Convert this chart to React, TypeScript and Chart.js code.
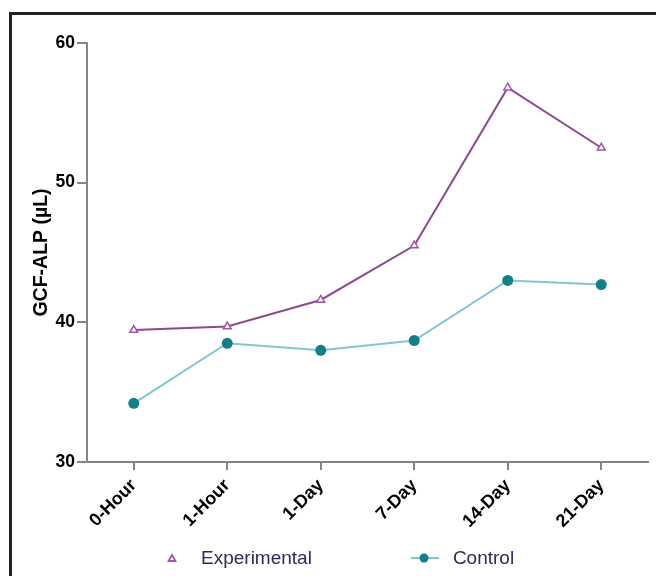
import { useRef, useEffect } from "react";
import { Chart, registerables } from "chart.js";

Chart.register(...registerables);

const timepoints = ["0-Hour", "1-Hour", "1-Day", "7-Day", "14-Day", "21-Day"];
const experimental = [39.45, 39.7, 41.6, 45.5, 56.8, 52.5];
const control = [34.2, 38.5, 38.0, 38.7, 43.0, 42.7];
const yTicks = [30, 40, 50, 60];

const colors = {
  expLine: "#8b4b8e",
  expPoint: "#a057a5",
  ctlLine: "#80c8d0",
  ctlPoint: "#137f89",
  axis: "#858585",
  legendText: "#2e2b5c",
};

const GcfChart = () => {
  const canvasRef = useRef<HTMLCanvasElement | null>(null);
  const chartRef = useRef<any>(null);

  useEffect(() => {
    if (!canvasRef.current) return;
    if (chartRef.current) chartRef.current.destroy();

    const ctx = canvasRef.current.getContext("2d");
    if (!ctx) return;

    chartRef.current = new Chart(ctx, {
      type: "line",
      data: {
        labels: timepoints,
        datasets: [
          {
            label: "Experimental",
            data: experimental,
            borderColor: colors.expLine,
            borderWidth: 2,
            pointStyle: "triangle",
            pointRadius: 4.5,
            pointBorderWidth: 1.5,
            pointBorderColor: colors.expPoint,
            pointBackgroundColor: "#ffffff",
            tension: 0,
          },
          {
            label: "Control",
            data: control,
            borderColor: colors.ctlLine,
            borderWidth: 2,
            pointStyle: "circle",
            pointRadius: 5.5,
            pointBorderWidth: 0,
            pointBackgroundColor: colors.ctlPoint,
            tension: 0,
          },
        ],
      },
      options: {
        responsive: false,
        animation: false,
        layout: { padding: { top: 43, left: 30, right: 8, bottom: 40 } },
        plugins: {
          legend: { display: false },
          tooltip: { enabled: false },
        },
        scales: {
          x: {
            offset: true,
            afterFit: (scale: any) => {
              scale.height = 74;
            },
            ticks: {
              autoSkip: false,
              maxRotation: 45,
              minRotation: 45,
              padding: 5,
              color: "#000",
              font: { family: "Liberation Sans, Arial", size: 18, weight: "bold" },
            },
            grid: {
              drawOnChartArea: false,
              drawTicks: true,
              tickLength: 8,
              color: colors.axis,
              lineWidth: 2,
            },
            border: { display: true, color: colors.axis, width: 2 },
          },
          y: {
            min: 30,
            max: 60,
            afterFit: (scale: any) => {
              scale.width = 57;
            },
            afterBuildTicks: (scale: any) => {
              scale.ticks = yTicks.map((v) => ({ value: v }));
            },
            ticks: {
              padding: 2,
              color: "#000",
              font: { family: "Liberation Sans, Arial", size: 17.5, weight: "bold" },
            },
            grid: {
              drawOnChartArea: false,
              drawTicks: true,
              tickLength: 10,
              color: colors.axis,
              lineWidth: 2,
            },
            border: { display: true, color: colors.axis, width: 2 },
            title: {
              display: true,
              text: "GCF-ALP (µL)",
              color: "#000",
              padding: 0,
              font: { family: "Liberation Sans, Arial", size: 19.5, weight: "bold" },
            },
          },
        },
      },
    });

    return () => chartRef.current?.destroy();
  }, []);

  return (
    <div
      style={{
        position: "fixed",
        left: 0,
        top: 0,
        width: 656,
        height: 576,
        background: "#fff",
        overflow: "hidden",
        fontFamily: "Liberation Sans, Arial, sans-serif",
      }}
    >
      {/* Frame */}
      <div
        style={{
          position: "absolute",
          left: 9,
          top: 12,
          width: 700,
          height: 600,
          borderLeft: "3px solid #222",
          borderTop: "3px solid #222",
        }}
      />

      {/* Chart */}
      <canvas
        ref={canvasRef}
        width={656}
        height={576}
        style={{ position: "absolute", left: 0, top: 0, width: 656, height: 576 }}
      ></canvas>

      {/* Custom Legend */}
      <div
        style={{
          position: "absolute",
          left: 165,
          top: 546,
          height: 24,
          display: "flex",
          alignItems: "center",
          fontSize: 19,
          color: colors.legendText,
        }}
      >
        <svg width={14} height={12} style={{ marginRight: 22 }}>
          <polygon
            points="7,3 10.5,9 3.5,9"
            fill="#fff"
            stroke={colors.expPoint}
            strokeWidth={1.8}
          />
        </svg>
        <span>Experimental</span>
        <svg width={30} height={12} style={{ marginLeft: 99, marginRight: 12 }}>
          <line x1={0} y1={6} x2={28} y2={6} stroke={colors.ctlLine} strokeWidth={2} />
          <circle cx={13} cy={6} r={4.5} fill={colors.ctlPoint} />
        </svg>
        <span>Control</span>
      </div>
    </div>
  );
};

export default function App() {
  return <GcfChart />;
}
